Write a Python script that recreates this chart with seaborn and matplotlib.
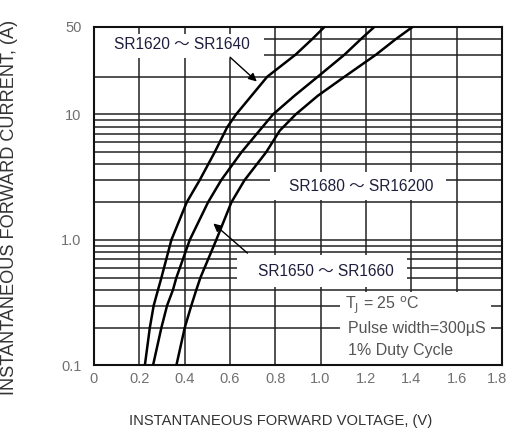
import numpy as np
import pandas as pd
import matplotlib
matplotlib.use("Agg")
import matplotlib.pyplot as plt
import matplotlib.transforms as mtransforms
import seaborn as sns
from matplotlib.patches import Rectangle
from matplotlib.ticker import FixedLocator, NullFormatter

# ---- data ----
i_sr1620_1640 = [0.1, 0.2, 0.3, 0.4, 0.5, 1.0, 2.0, 3.0, 5.0, 7.9, 10.0, 20.0, 30.0, 40.0, 50.0]
v_sr1620_1640 = [0.225, 0.247, 0.264, 0.283, 0.298, 0.342, 0.410, 0.467, 0.533, 0.588, 0.627, 0.765, 0.890, 0.964, 1.018]
i_sr1650_1660 = [0.1, 0.2, 0.3, 0.4, 0.5, 1.0, 2.0, 3.0, 5.0, 10.0, 14.1, 20.0, 30.0, 40.0, 50.0]
v_sr1650_1660 = [0.261, 0.298, 0.323, 0.349, 0.364, 0.423, 0.504, 0.562, 0.651, 0.790, 0.885, 0.988, 1.106, 1.179, 1.238]
i_sr1680_16200 = [0.1, 0.2, 0.3, 0.4, 0.5, 1.0, 2.0, 3.0, 5.0, 7.43, 10.0, 14.1, 20.0, 30.0, 40.0, 50.0]
v_sr1680_16200 = [0.364, 0.401, 0.430, 0.452, 0.470, 0.540, 0.607, 0.665, 0.760, 0.820, 0.890, 0.988, 1.106, 1.245, 1.333, 1.407]
series_names = ["SR1620～SR1640", "SR1650～SR1660", "SR1680～SR16200"]

x_ticks = [0, 0.2, 0.4, 0.6, 0.8, 1.0, 1.2, 1.4, 1.6, 1.8]
x_tick_labels = ["0", "0.2", "0.4", "0.6", "0.8", "1.0", "1.2", "1.4", "1.6", "1.8"]
y_ticks = [0.1, 1.0, 10, 50]
y_tick_labels = ["0.1", "1.0", "10", "50"]
y_minor = [0.2, 0.3, 0.4, 0.5, 0.6, 0.7, 0.8, 0.9, 2, 3, 4, 5, 6, 7, 8, 9, 20, 30, 40]

df = pd.concat([
    pd.DataFrame({"V": v, "I": i, "series": name})
    for v, i, name in zip([v_sr1620_1640, v_sr1650_1660, v_sr1680_16200],
                          [i_sr1620_1640, i_sr1650_1660, i_sr1680_16200], series_names)
])

sns.set_style("white")
plt.rcParams["font.family"] = ["Liberation Sans", "Noto Sans CJK SC", "DejaVu Sans"]

fig = plt.figure(figsize=(5.10, 4.32), dpi=100)
ax = fig.add_axes([0.184, 0.154, 0.800, 0.784])

sns.lineplot(data=df, x="V", y="I", units="series", estimator=None, sort=False,
             color="black", lw=1.8, ax=ax, zorder=3)

ax.set_yscale("log")
ax.set_xlim(0, 1.8)
ax.set_ylim(0.1, 50)

ax.xaxis.set_major_locator(FixedLocator(x_ticks))
ax.set_xticklabels(x_tick_labels)
ax.yaxis.set_major_locator(FixedLocator(y_ticks))
ax.set_yticklabels(y_tick_labels)
ax.yaxis.set_minor_locator(FixedLocator(y_minor))
ax.yaxis.set_minor_formatter(NullFormatter())

ax.set_axisbelow(True)
ax.grid(True, which="major", axis="both", color="#222222", lw=1.1)
ax.grid(True, which="minor", axis="y", color="#222222", lw=1.1)

for lab in ax.get_xticklabels() + ax.get_yticklabels():
    lab.set_fontsize(10.5)
    lab.set_color("#707070")
ax.tick_params(axis="both", which="both", length=0)
ax.tick_params(axis="x", pad=5)
ax.tick_params(axis="y", pad=9)
last = ax.get_xticklabels()[-1]
last.set_transform(last.get_transform() + mtransforms.ScaledTranslation(-5 / 100, 0, fig.dpi_scale_trans))

for s in ax.spines.values():
    s.set_color("#111111")
    s.set_linewidth(1.5)

ax.set_xlabel("INSTANTANEOUS FORWARD VOLTAGE, (V)", fontsize=10.6, color="#333333")
ax.xaxis.set_label_coords(0.458, -0.142)
ax.set_ylabel("INSTANTANEOUS FORWARD CURRENT, (A)", fontsize=13.1, color="#333333")
ax.yaxis.set_label_coords(-0.186, 0.468)

# white label boxes hiding grid
for (x0, x1, y0, y1) in [(0.0, 0.75, 28, 44), (0.775, 1.555, 2.1, 3.45),
                         (0.63, 1.383, 0.42, 0.76), (1.085, 1.75, 0.1, 0.385)]:
    ax.add_patch(Rectangle((x0, y0), x1 - x0, y1 - y0, facecolor="white",
                           edgecolor="none", zorder=1))

lab_kw = dict(fontsize=11.2, color="#1e1e3c", zorder=4)
ax.text(0.09, 36, "SR1620 ～ SR1640", ha="left", va="center", **lab_kw)
ax.text(0.86, 2.68, "SR1680 ～ SR16200", ha="left", va="center", **lab_kw)
ax.text(0.725, 0.565, "SR1650 ～ SR1660", ha="left", va="center", **lab_kw)

ax.annotate("", xy=(0.728, 17.7), xytext=(0.592, 29.6),
            arrowprops=dict(arrowstyle="-|>", color="black", lw=1.0, mutation_scale=12), zorder=4)
ax.annotate("", xy=(0.518, 1.40), xytext=(0.687, 0.76),
            arrowprops=dict(arrowstyle="-|>", color="black", lw=1.0, mutation_scale=12), zorder=4)

note_kw = dict(fontsize=11.5, color="#555555", ha="left", va="center", zorder=4)
ax.text(1.11, 0.30, r"T$_{\rm J}$ = 25 $^{\rm o}$C", **note_kw)
ax.text(1.12, 0.198, "Pulse width=300µS", **note_kw)
ax.text(1.12, 0.132, "1% Duty Cycle", **note_kw)

fig.savefig("out.png", dpi=100)
